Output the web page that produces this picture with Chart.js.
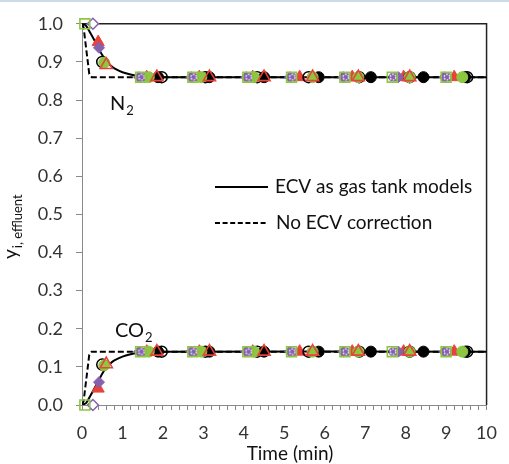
<!DOCTYPE html>
<html lang="en">
<head>
<meta charset="UTF-8">
<title>Effluent mole fraction</title>
<script src="https://cdn.jsdelivr.net/npm/chart.js"></script>
<style>
  html, body { margin: 0; padding: 0; background: #fff; }
  #wrap { position: relative; width: 509px; height: 464px; }
  #topline { position: absolute; left: 0; top: 0; width: 509px; height: 2px; background: #cddbe8; }
</style>
</head>
<body>
<div id="wrap">
  <canvas id="chart" width="509" height="464"></canvas>
  <div id="topline"></div>
</div>
<script>
// ECV as gas tank model (solid)
const modelTime = [0, 0.1, 0.2, 0.3, 0.4, 0.5, 0.6, 0.7, 0.8, 1.0, 1.2, 1.4, 1.7, 2.0, 10];
const modelN2   = [1.0, 0.995, 0.977, 0.958, 0.938, 0.918, 0.902, 0.891, 0.883, 0.873, 0.867, 0.863, 0.861, 0.86, 0.86];
const modelCO2  = [0.0, 0.005, 0.023, 0.042, 0.062, 0.082, 0.098, 0.109, 0.117, 0.127, 0.133, 0.137, 0.139, 0.14, 0.14];

// no ECV correction (dashed)
const plainTime = [0, 0.04, 0.18, 0.24, 10];
const plainN2   = [1.0, 0.99, 0.868, 0.86, 0.86];
const plainCO2  = [0.0, 0.01, 0.132, 0.14, 0.14];

// measured points, one array per marker type
const sqTime = [0.07, 1.45, 2.74, 4.10, 5.18, 6.50, 7.67, 9.00];
const sqN2   = [1.0, 0.86, 0.86, 0.86, 0.86, 0.86, 0.86, 0.86];
const sqCO2  = [0.0, 0.14, 0.14, 0.14, 0.14, 0.14, 0.14, 0.14];

const dOpenTime = [0.27];
const dOpenN2   = [1.0];
const dOpenCO2  = [0.0];

const dFillTime = [0.42, 1.41, 2.70, 4.06, 5.14, 6.46, 7.82, 8.96];
const dFillN2   = [0.937, 0.86, 0.86, 0.86, 0.86, 0.86, 0.86, 0.86];
const dFillCO2  = [0.06, 0.14, 0.14, 0.14, 0.14, 0.14, 0.14, 0.14];

const ringTime = [1.47, 2.76, 4.12, 5.20, 6.52, 7.69, 9.02];
const ringN2   = [0.86, 0.86, 0.86, 0.86, 0.86, 0.86, 0.86];
const ringCO2  = [0.14, 0.14, 0.14, 0.14, 0.14, 0.14, 0.14];

const greenTime = [0.55, 1.65, 2.95, 4.25, 5.70, 6.83, 8.10, 9.40];
const greenN2   = [0.898, 0.86, 0.86, 0.86, 0.86, 0.86, 0.86, 0.86];
const greenCO2  = [0.104, 0.14, 0.14, 0.14, 0.14, 0.14, 0.14, 0.14];

const blackOpenTime = [0.50, 1.97, 3.05, 4.33, 5.60, 6.85, 8.10, 9.52];
const blackOpenN2   = [0.900, 0.86, 0.86, 0.86, 0.86, 0.86, 0.86, 0.86];
const blackOpenCO2  = [0.106, 0.14, 0.14, 0.14, 0.14, 0.14, 0.14, 0.14];

const blackFillTime = [1.88, 3.15, 4.50, 5.85, 7.14, 8.44, 9.47];
const blackFillN2   = [0.86, 0.86, 0.86, 0.86, 0.86, 0.86, 0.86];
const blackFillCO2  = [0.14, 0.14, 0.14, 0.14, 0.14, 0.14, 0.14];

const redOpenTime = [0.60, 1.85, 3.15, 4.50, 5.70, 6.83, 8.10];
const redOpenN2   = [0.892, 0.86, 0.86, 0.86, 0.86, 0.86, 0.86];
const redOpenCO2  = [0.107, 0.14, 0.14, 0.14, 0.14, 0.14, 0.14];

const redFillTime = [0.40, 1.60, 2.90, 4.22, 5.38, 6.68, 7.95, 9.20];
const redFillN2   = [0.952, 0.86, 0.86, 0.86, 0.86, 0.86, 0.86, 0.86];
const redFillCO2  = [0.043, 0.14, 0.14, 0.14, 0.14, 0.14, 0.14, 0.14];

const GREEN = '#8dc640';
const PURPLE = '#8561ae';
const RED = '#e8433a';
const FONT = 'Lato';

function pts(t, v) {
    return t.map((x, i) => ({ x: x, y: v[i] }));
}

// purple dot with a broken white ring inside
function ringMarker() {
    const c = document.createElement('canvas');
    c.width = 12; c.height = 12;
    const g = c.getContext('2d');
    g.fillStyle = PURPLE;
    g.beginPath(); g.arc(6, 6, 4.6, 0, Math.PI * 2); g.fill();
    g.strokeStyle = '#fff'; g.lineWidth = 1.3;
    g.setLineDash([1.6, 1.4]);
    g.beginPath(); g.arc(6, 6, 2.8, 0, Math.PI * 2); g.stroke();
    return c;
}
const ring = ringMarker();

function markers(label, t, n2, co2, style, order) {
    return [n2, co2].map(v => Object.assign({
        label: label,
        data: pts(t, v),
        showLine: false,
        clip: false,
        order: order
    }, style));
}

const datasets = [
    { label: 'ECV as gas tank models', data: pts(modelTime, modelN2), showLine: true, borderColor: '#000', borderWidth: 2, pointRadius: 0, tension: 0.3, order: 20 },
    { label: 'ECV as gas tank models', data: pts(modelTime, modelCO2), showLine: true, borderColor: '#000', borderWidth: 2, pointRadius: 0, tension: 0.3, order: 20 },
    { label: 'No ECV correction', data: pts(plainTime, plainN2), showLine: true, borderColor: '#000', borderWidth: 2, borderDash: [6, 3], pointRadius: 0, order: 21 },
    { label: 'No ECV correction', data: pts(plainTime, plainCO2), showLine: true, borderColor: '#000', borderWidth: 2, borderDash: [6, 3], pointRadius: 0, order: 21 }
].concat(
    markers('red filled', redFillTime, redFillN2, redFillCO2,
        { pointStyle: 'triangle', pointRadius: 7, backgroundColor: RED, borderColor: RED, borderWidth: 1 }, 9),
    markers('black filled', blackFillTime, blackFillN2, blackFillCO2,
        { pointStyle: 'circle', pointRadius: 5.5, backgroundColor: '#000', borderColor: '#000', borderWidth: 1 }, 8),
    markers('black open', blackOpenTime, blackOpenN2, blackOpenCO2,
        { pointStyle: 'circle', pointRadius: 5.5, backgroundColor: 'rgba(0,0,0,0)', borderColor: '#000', borderWidth: 1.5 }, 7),
    markers('green filled', greenTime, greenN2, greenCO2,
        { pointStyle: 'circle', pointRadius: 5.5, backgroundColor: GREEN, borderColor: GREEN, borderWidth: 1 }, 6),
    markers('red open', redOpenTime, redOpenN2, redOpenCO2,
        { pointStyle: 'triangle', pointRadius: 7, backgroundColor: 'rgba(0,0,0,0)', borderColor: RED, borderWidth: 1.6 }, 5),
    markers('purple filled', dFillTime, dFillN2, dFillCO2,
        { pointStyle: 'rectRot', pointRadius: 5.5, backgroundColor: PURPLE, borderColor: PURPLE, borderWidth: 1 }, 4),
    markers('purple ring', ringTime, ringN2, ringCO2,
        { pointStyle: ring, pointRadius: 5, backgroundColor: PURPLE, borderColor: PURPLE }, 3),
    markers('purple open', dOpenTime, dOpenN2, dOpenCO2,
        { pointStyle: 'rectRot', pointRadius: 5.5, backgroundColor: '#fff', borderColor: PURPLE, borderWidth: 1.5 }, 2),
    markers('green open', sqTime, sqN2, sqCO2,
        { pointStyle: 'rect', pointRadius: 7, backgroundColor: 'rgba(0,0,0,0)', borderColor: GREEN, borderWidth: 1.6 }, 1)
);

// frame, legend and in-plot labels
const decorations = {
    id: 'decorations',
    beforeDatasetsDraw(chart) {
        const ctx = chart.ctx;
        const a = chart.chartArea;
        ctx.save();
        ctx.strokeStyle = '#222';
        ctx.lineWidth = 1.5;
        ctx.beginPath();
        ctx.moveTo(a.left, a.top);
        ctx.lineTo(a.right, a.top);
        ctx.lineTo(a.right, a.bottom);
        ctx.stroke();
        ctx.restore();
    },
    afterDatasetsDraw(chart) {
        const ctx = chart.ctx;
        ctx.save();

        ctx.fillStyle = '#111';
        ctx.textBaseline = 'middle';
        ctx.font = '19px ' + FONT;
        ctx.lineWidth = 2;
        ctx.strokeStyle = '#000';
        ctx.beginPath(); ctx.moveTo(215, 187); ctx.lineTo(268, 187); ctx.stroke();
        ctx.fillText('ECV as gas tank models', 275, 187);
        ctx.setLineDash([5, 2.6]);
        ctx.beginPath(); ctx.moveTo(215, 223); ctx.lineTo(268, 223); ctx.stroke();
        ctx.setLineDash([]);
        ctx.fillText('No ECV correction', 276, 223);

        ctx.textBaseline = 'alphabetic';
        ctx.font = '20px ' + FONT;
        ctx.fillText('N', 110, 110);
        let w = ctx.measureText('N').width;
        ctx.font = '13px ' + FONT;
        ctx.fillText('2', 110 + w + 1, 115);

        ctx.font = '20px ' + FONT;
        ctx.fillText('CO', 115, 337);
        w = ctx.measureText('CO').width;
        ctx.font = '13px ' + FONT;
        ctx.fillText('2', 115 + w + 1, 342);

        // axis titles
        ctx.font = '19px ' + FONT;
        ctx.textAlign = 'center';
        ctx.fillText('Time (min)', 290, 460);

        ctx.textAlign = 'left';
        ctx.translate(17, 259);
        ctx.rotate(-Math.PI / 2);
        ctx.font = '19px ' + FONT;
        ctx.fillText('y', 0, 0);
        w = ctx.measureText('y').width;
        ctx.font = '13px ' + FONT;
        ctx.fillText('i, effluent', w + 1, 5);
        ctx.restore();
    }
};

new Chart(document.getElementById('chart'), {
    type: 'scatter',
    data: { datasets: datasets },
    options: {
        responsive: false,
        animation: false,
        layout: { padding: { left: 0, top: 23, right: 11, bottom: 0 } },
        plugins: { legend: { display: false }, tooltip: { enabled: false } },
        scales: {
            x: {
                type: 'linear', min: 0, max: 10,
                afterFit: s => { s.height = 59; },
                border: { display: true, color: '#8a8a8a', width: 1 },
                grid: { drawOnChartArea: false, drawTicks: true, tickLength: 5, tickColor: '#8a8a8a' },
                ticks: {
                    stepSize: 0.2, autoSkip: false, maxRotation: 0, maxTicksLimit: 80,
                    padding: 12, color: '#333', font: { family: FONT, size: 18 },
                    callback: v => Math.abs(v - Math.round(v)) < 1e-6 ? String(Math.round(v)) : ''
                }
            },
            y: {
                type: 'linear', min: 0, max: 1,
                afterFit: s => { s.width = 82; },
                border: { display: true, color: '#8a8a8a', width: 1 },
                grid: { drawOnChartArea: false, drawTicks: true, tickLength: 6, tickColor: '#8a8a8a' },
                ticks: {
                    stepSize: 0.1, padding: 13, color: '#333', font: { family: FONT, size: 18 },
                    callback: v => v.toFixed(1)
                }
            }
        }
    },
    plugins: [decorations]
});
</script>
</body>
</html>
